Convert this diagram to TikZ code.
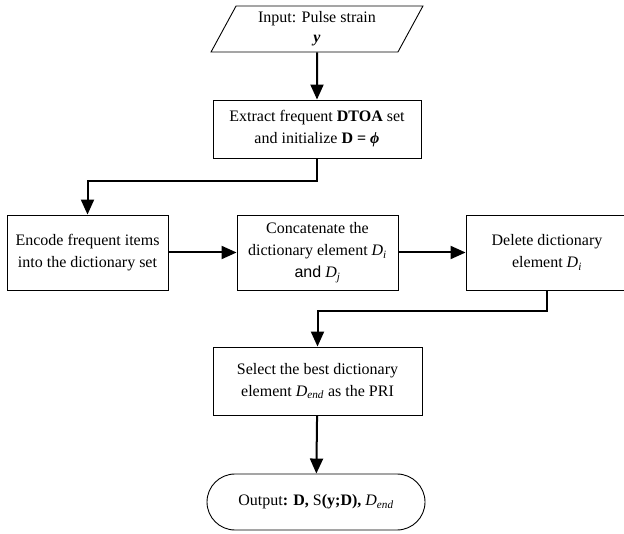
\documentclass[tikz,border=0pt]{standalone}
\usepackage{fontspec}
\setmainfont{Liberation Serif}
\newfontfamily\andfont{Liberation Sans}
\usetikzlibrary{arrows.meta,shapes.geometric}
\newcommand{\dvar}[1]{\textit{D}\textsubscript{\textit{#1}}}

\begin{document}
\begin{tikzpicture}[x=1pt,y=-1pt,
 stepbox/.style={draw,line width=0.9pt,align=center,font=\fontsize{16}{22}\selectfont,inner sep=2pt},
 iobox/.style={stepbox,trapezium,trapezium left angle=64,trapezium right angle=116,trapezium stretches=true,minimum width=212pt,minimum height=46pt},
 termbox/.style={stepbox,rounded corners=28pt,minimum width=218pt,minimum height=56pt},
 arrow/.style={-{Triangle[length=15pt,width=13pt]},line width=2pt}
]
\useasboundingbox (0,0) rectangle (624,534);
\node[iobox] (input) at (317,29) {Input: Pulse strain\\[-2pt]\textbf{\textit{y}}};
\node[stepbox,minimum width=208pt,minimum height=58pt] (extract) at (317,129) {Extract frequent \textbf{DTOA} set\\and initialize \textbf{D = \textit{ϕ}}};
\node[stepbox,minimum width=161pt,minimum height=75pt] (encode) at (87.5,252.5) {Encode frequent items\\into the dictionary set};
\node[stepbox,minimum width=161pt,minimum height=75pt] (concat) at (317.5,252.5) {Concatenate the\\dictionary element \dvar{i}\\{\andfont and} \dvar{j}};
\node[stepbox,minimum width=162pt,minimum height=75pt] (delete) at (547,252.5) {Delete dictionary\\element \dvar{i}};
\node[stepbox,minimum width=209pt,minimum height=68pt] (select) at (317.5,381) {Select the best dictionary\\element \dvar{end} as the PRI};
\node[termbox] (output) at (316,502) {Output\textbf{: D,} S\textbf{(y;D),} \dvar{end}};
% connectors
\draw[arrow] (input) -- (extract);
\draw[arrow] (extract.south) -- ++(0,23) -| (encode.north);
\draw[arrow] (encode) -- (concat);
\draw[arrow] (concat) -- (delete);
\draw[arrow] (delete.south) -- ++(0,21) -| (select.north);
\draw[arrow] (select) -- (output);
\end{tikzpicture}
\end{document}
